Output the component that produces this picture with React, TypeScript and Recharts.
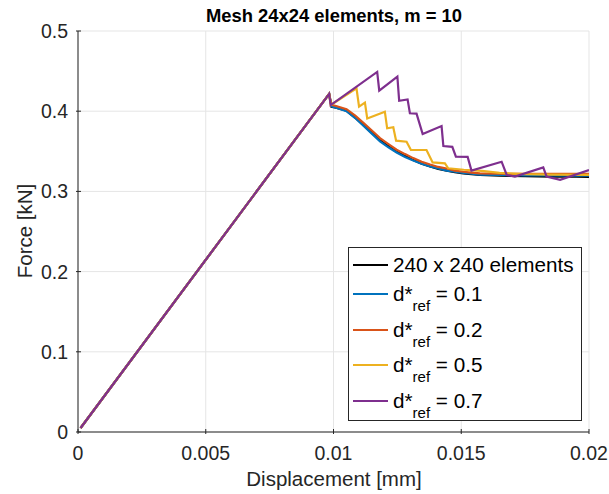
import {LineChart, Line, CartesianGrid, XAxis, YAxis} from "recharts";

const xTicks = [0, 0.005, 0.01, 0.015, 0.02];
const yTicks = [0, 0.1, 0.2, 0.3, 0.4, 0.5];

// 240 x 240 reference mesh
const refDisp = [0.0001, 0.00983, 0.00992, 0.0101, 0.01051, 0.01085, 0.01117, 0.0115, 0.01182, 0.01215, 0.01247, 0.0128, 0.01312, 0.01345, 0.01378, 0.0141, 0.01443, 0.01475, 0.01508, 0.0154, 0.01573, 0.0165, 0.0175, 0.0185, 0.0195, 0.02];
const refForce = [0.005, 0.4215, 0.4055, 0.4045, 0.4005, 0.392, 0.383, 0.373, 0.364, 0.3565, 0.3495, 0.344, 0.339, 0.3345, 0.331, 0.328, 0.326, 0.324, 0.3225, 0.3215, 0.3205, 0.3195, 0.319, 0.3185, 0.3183, 0.3182];

const d01Disp = refDisp;
const d01Force = [0.005, 0.4215, 0.406, 0.4045, 0.4, 0.3915, 0.382, 0.372, 0.3625, 0.355, 0.3485, 0.343, 0.3385, 0.3345, 0.331, 0.3285, 0.326, 0.3245, 0.323, 0.322, 0.321, 0.3205, 0.32, 0.3198, 0.3196, 0.3195];

const d02Disp = refDisp;
const d02Force = [0.005, 0.4215, 0.4078, 0.4065, 0.4025, 0.3945, 0.3855, 0.376, 0.3665, 0.359, 0.352, 0.3465, 0.3415, 0.337, 0.3335, 0.3305, 0.3285, 0.326, 0.3245, 0.3235, 0.3225, 0.322, 0.3218, 0.3218, 0.3218, 0.3218];

const d05Disp = [0.0001, 0.00983, 0.00989, 0.0109, 0.011, 0.01123, 0.01132, 0.01201, 0.0121, 0.01234, 0.01245, 0.01286, 0.01303, 0.01364, 0.01388, 0.01436, 0.01449, 0.0151, 0.0158, 0.0165, 0.0175, 0.0185, 0.02];
const d05Force = [0.005, 0.4215, 0.4077, 0.4285, 0.4056, 0.4106, 0.391, 0.3994, 0.3787, 0.38, 0.3633, 0.362, 0.3516, 0.3516, 0.3362, 0.335, 0.3288, 0.327, 0.3255, 0.323, 0.3215, 0.321, 0.3205];

const d07Disp = [0.0001, 0.00983, 0.00989, 0.01171, 0.01179, 0.0125, 0.01257, 0.0129, 0.01299, 0.01325, 0.01349, 0.01423, 0.0143, 0.01465, 0.01479, 0.01525, 0.0154, 0.01658, 0.01678, 0.0171, 0.01821, 0.01834, 0.01887, 0.02];
const d07Force = [0.005, 0.4215, 0.4077, 0.449, 0.4256, 0.443, 0.413, 0.4147, 0.3974, 0.397, 0.3716, 0.3815, 0.3566, 0.3555, 0.3433, 0.343, 0.326, 0.337, 0.3205, 0.3185, 0.33, 0.3184, 0.3145, 0.3267];

const toPoints = (xs: number[], ys: number[]) => xs.map((x, i) => ({x, y: ys[i]}));

const series = [
    {name: "ref", label: "240 x 240 elements", color: "#000000", data: toPoints(refDisp, refForce)},
    {name: "d01", label: "0.1", color: "#0072BD", data: toPoints(d01Disp, d01Force)},
    {name: "d02", label: "0.2", color: "#D95319", data: toPoints(d02Disp, d02Force)},
    {name: "d05", label: "0.5", color: "#EDB120", data: toPoints(d05Disp, d05Force)},
    {name: "d07", label: "0.7", color: "#7E2F8E", data: toPoints(d07Disp, d07Force)},
];

const FONT = "'Liberation Sans', Arial, Helvetica, sans-serif";
const AXIS = "#262626";

const XTick = (props: any) => {
    const {x, y, payload} = props;
    return (
        <g>
            <line x1={x} x2={x} y1={y} y2={y - 5} stroke={AXIS} />
            <text x={x} y={y + 26} textAnchor="middle" fontSize={19.5} fontFamily={FONT} fill={AXIS}>{payload.value}</text>
        </g>
    );
};

const YTick = (props: any) => {
    const {x, y, payload} = props;
    return (
        <g>
            <line x1={x} x2={x + 5} y1={y} y2={y} stroke={AXIS} />
            <text x={x - 8} y={y + 7} textAnchor="end" fontSize={19.5} fontFamily={FONT} fill={AXIS}>{payload.value}</text>
        </g>
    );
};

const Legend = () => (
    <div style={{position: "absolute", left: 348, top: 247, width: 232, height: 172, background: "#fff",
        border: `1px solid ${AXIS}`, fontFamily: FONT, fontSize: 20.7, color: "#000"}}>
        {series.map((s, i) => (
            <div key={s.name} style={{position: "absolute", left: 4, top: i === 0 ? 5 : 34 + (i - 1) * 35.5, height: 30, display: "flex", alignItems: "flex-start"}}>
                <div style={{width: 35, height: 2, background: s.color, marginTop: 11}} />
                <div style={{marginLeft: 5, whiteSpace: "nowrap", lineHeight: "24px"}}>
                    {i === 0 ? s.label : (<>d*<sub style={{fontSize: 15, verticalAlign: "-10px", lineHeight: 0}}>ref</sub> = {s.label}</>)}
                </div>
            </div>
        ))}
    </div>
);

export default function App() {
    return (
        <div style={{position: "fixed", left: 0, top: 0, width: 609, height: 494, background: "#fff"}}>
            <LineChart width={609} height={494} margin={{top: 31, right: 20, bottom: 0, left: 0}}>
                <CartesianGrid stroke="#e5e5e5" horizontalValues={yTicks} verticalValues={xTicks} />
                <XAxis dataKey="x" type="number" domain={[0, 0.02]} ticks={xTicks} height={62}
                       allowDataOverflow tickSize={0} tickLine={false} stroke={AXIS} tick={<XTick />} />
                <YAxis type="number" domain={[0, 0.5]} ticks={yTicks} width={78}
                       allowDataOverflow tickSize={0} tickLine={false} stroke={AXIS} tick={<YTick />} />
                {series.map(s => (
                    <Line key={s.name} data={s.data} dataKey="y" type="linear" stroke={s.color}
                          strokeWidth={2.2} dot={false} isAnimationActive={false} />
                ))}
            </LineChart>
            <svg width={609} height={494} style={{position: "absolute", left: 0, top: 0, pointerEvents: "none"}}>
                <text x={334} y={22} textAnchor="middle" fontSize={18.4} fontWeight="bold" fontFamily={FONT} fill="#000">
                    Mesh 24x24 elements, m = 10
                </text>
                <text x={334} y={486} textAnchor="middle" fontSize={20.5} fontFamily={FONT} fill={AXIS}>Displacement [mm]</text>
                <text transform="translate(32,231) rotate(-90)" textAnchor="middle" fontSize={20.5} fontFamily={FONT} fill={AXIS}>Force [kN]</text>
            </svg>
            <Legend />
        </div>
    );
}
